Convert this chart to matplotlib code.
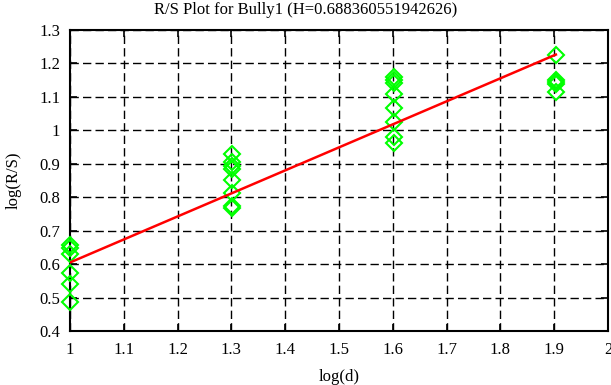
import matplotlib
matplotlib.use("Agg")
import matplotlib.pyplot as plt
import numpy as np

plt.rcParams['font.family'] = ['Liberation Serif', 'DejaVu Serif']

title = "R/S Plot for Bully1 (H=0.688360551942626)"
H = 0.688360551942626
intercept = -0.0835

x_1 = [1.0] * 6
y_1 = [0.657, 0.648, 0.630, 0.574, 0.540, 0.488]
x_2 = [1.30103] * 8
y_2 = [0.930, 0.905, 0.892, 0.885, 0.852, 0.814, 0.773, 0.768]
x_3 = [1.60206] * 8
y_3 = [1.160, 1.150, 1.142, 1.110, 1.068, 1.025, 0.980, 0.963]
x_4 = [1.90309] * 5
y_4 = [1.225, 1.150, 1.145, 1.140, 1.116]

xs = x_1 + x_2 + x_3 + x_4
ys = y_1 + y_2 + y_3 + y_4

fit_x = [1.0, 1.90309]

xticks = [1, 1.1, 1.2, 1.3, 1.4, 1.5, 1.6, 1.7, 1.8, 1.9, 2]
xticklabels = ["1", "1.1", "1.2", "1.3", "1.4", "1.5", "1.6", "1.7", "1.8", "1.9", "2"]
yticks = [0.4, 0.5, 0.6, 0.7, 0.8, 0.9, 1.0, 1.1, 1.2, 1.3]
yticklabels = ["0.4", "0.5", "0.6", "0.7", "0.8", "0.9", "1", "1.1", "1.2", "1.3"]

fig = plt.figure(figsize=(6.11, 3.85), dpi=100)
ax = fig.add_axes([70/611, 1 - 331/385, 538/611, 301/385])

ax.plot(xs, ys, linestyle='none', marker='D', markersize=8.5,
        markerfacecolor='none', markeredgecolor='#00ff00', markeredgewidth=1.5,
        zorder=3, clip_on=False)
fy = [intercept + H * v for v in fit_x]
ax.plot(fit_x, fy, color='#ff0000', linewidth=1.8, zorder=4)

ax.set_xlim(1, 2)
ax.set_ylim(0.4, 1.3)
ax.set_xticks(xticks)
ax.set_xticklabels(xticklabels)
ax.set_yticks(yticks)
ax.set_yticklabels(yticklabels)
ax.grid(True, color='black', linestyle=(0, (6, 3)), linewidth=1)
ax.tick_params(direction='in', length=5, width=1.2, top=True, right=True,
               labelsize=12, colors='black')
ax.tick_params(axis='x', pad=8)
ax.tick_params(axis='y', pad=7)
for s in ax.spines.values():
    s.set_linewidth(1.5)

fig.text(0.5, 1 - 10/385, title, fontsize=12, ha='center', va='center')
ax.set_xlabel("log(d)", fontsize=12, labelpad=8)
ax.set_ylabel("log(R/S)", fontsize=12, labelpad=13)

fig.savefig("out.png", dpi=100)
